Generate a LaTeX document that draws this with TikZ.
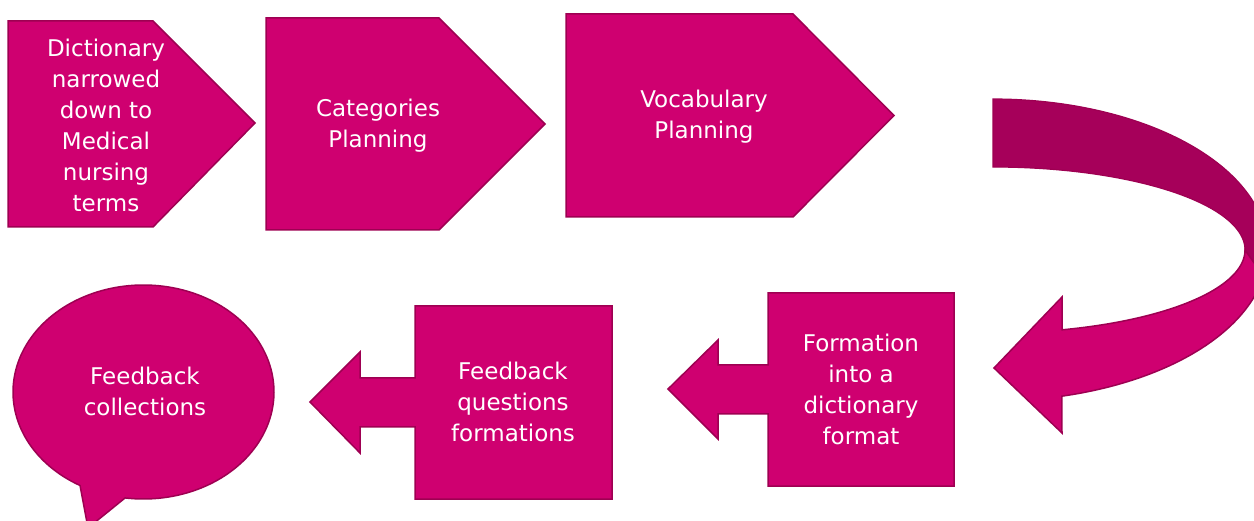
\documentclass[tikz,border=0pt]{standalone}
\usepackage{fontspec}
\setmainfont{DejaVu Sans}
\definecolor{mag}{RGB}{207,0,112}
\definecolor{magline}{RGB}{158,0,82}
\definecolor{magdark}{RGB}{166,0,90}
\tikzset{
  shapebox/.style={fill=mag, draw=magline, line width=1.5pt, line join=miter},
  backband/.style={fill=magdark, draw=magline, line width=1.2pt},
  label/.style={text=white, align=center, inner sep=0pt, font=\fontsize{23}{31}\selectfont}
}
\begin{document}
\begin{tikzpicture}[x=1pt,y=-1pt]
\useasboundingbox (0,0) rectangle (1254,521);
\clip (0,0) rectangle (1254,521);
% top row pentagons
\filldraw[shapebox] (8,21) -- (153,21) -- (255,123) -- (153,227) -- (8,227) -- cycle;
\filldraw[shapebox] (266,18) -- (439,18) -- (545,124) -- (439,230) -- (266,230) -- cycle;
\filldraw[shapebox] (566,14) -- (793,14) -- (894,115.5) -- (793,217) -- (566,217) -- cycle;
% curved arrow
\filldraw[backband] plot[domain=-90:10,samples=80] ({993+274.7*cos(\x)},{250+151*sin(\x)})
  -- plot[domain=0:-90,samples=80] ({993+252*cos(\x)},{250+83*sin(\x)}) -- cycle;
\filldraw[shapebox] plot[domain=0:74.1,samples=80] ({993+252*cos(\x)},{250+83*sin(\x)})
  -- (1062,297) -- (994,368) -- (1062,433)
  -- plot[domain=75.5:10,samples=80] ({993+274.7*cos(\x)},{250+151*sin(\x)}) -- cycle;
% bottom row boxes with left arrows
\filldraw[shapebox] (768,293) -- (954,293) -- (954,486) -- (768,486) -- (768,414) -- (718,414)
  -- (718,439) -- (668,389) -- (718,340) -- (718,365) -- (768,365) -- cycle;
\filldraw[shapebox] (415,306) -- (612,306) -- (612,499) -- (415,499) -- (415,427) -- (360,427)
  -- (360,453) -- (310,402) -- (360,352) -- (360,378) -- (415,378) -- cycle;
% speech bubble
\filldraw[shapebox] (88,528) -- plot[domain=119.1:458.1,samples=160] ({143.5+130.5*cos(\x)},{392+107*sin(\x)}) -- cycle;
% texts
\node[label] (t1) at (106,125.5) {Dictionary\\narrowed\\down to\\Medical\\nursing\\terms};
\node[label] (t2) at (378,126) {Categories\\Planning};
\node[label] (t3) at (704,116.6) {Vocabulary\\Planning};
\node[label] (t5) at (861,389.3) {Formation\\into a\\dictionary\\format};
\node[label] (t6) at (513,402) {Feedback\\questions\\formations};
\node[label] (t7) at (145,391.7) {Feedback\\collections};
\end{tikzpicture}
\end{document}
